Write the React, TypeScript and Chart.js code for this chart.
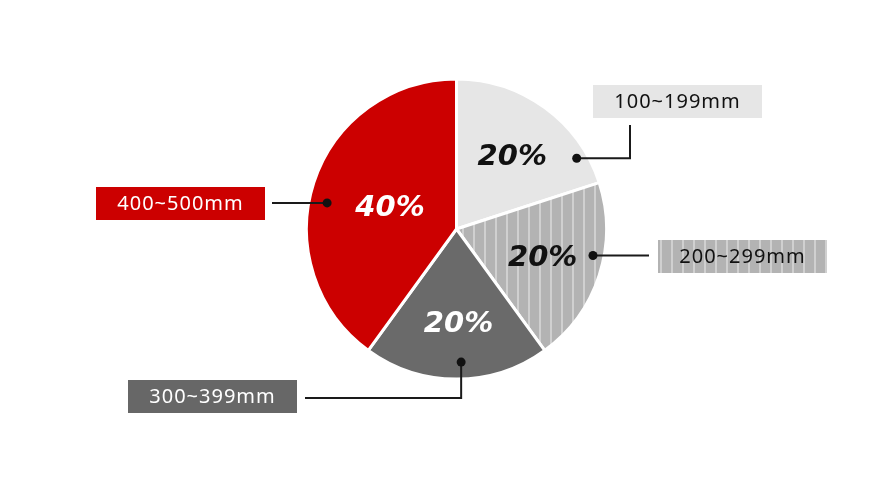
import React, { useEffect, useRef } from 'react';
import { Chart, registerables, Plugin } from 'chart.js';

Chart.register(...registerables);

// data
const categories = ['100~199mm', '200~299mm', '300~399mm', '400~500mm'];
const shares = [20, 20, 20, 40];

// styling per slice
const sliceColors = ['#e6e6e6', 'stripe', '#6a6a6a', '#cc0000'];
const boxColors = ['#e6e6e6', 'stripe', '#676767', '#cc0000'];
const valueTextColors = ['#111111', '#111111', '#ffffff', '#ffffff'];
const boxTextColors = ['#111111', '#111111', '#ffffff', '#ffffff'];
const valueRadius = [0.61, 0.59, 0.62, 0.48];

// callout layout, offsets in px relative to pie center at R=150
const callouts = [
  { dotAngle: 59.5, dotR: 0.93, path: [[173.5, null], [173.5, -104]], box: [136.5, -144] },
  { dotAngle: 101, dotR: 0.927, path: [[192.5, null]], box: [201.5, 11] },
  { dotAngle: 178, dotR: 0.888, path: [[null, 169], [-151.5, 169]], box: [-328.5, 151] },
  { dotAngle: 281.4, dotR: 0.88, path: [[-184.5, null]], box: [-360.5, -42] },
];
const BOX_W = 169;
const BOX_H = 33;

function makeStripe(ctx: CanvasRenderingContext2D): CanvasPattern | string {
  const c = document.createElement('canvas');
  c.width = 11;
  c.height = 4;
  const p = c.getContext('2d');
  if (!p) return '#b5b5b5';
  p.fillStyle = '#b3b3b3';
  p.fillRect(0, 0, 11, 4);
  p.fillStyle = '#d0d0d0';
  p.fillRect(0, 0, 2, 4);
  return ctx.createPattern(c, 'repeat') || '#b5b5b5';
}

const calloutPlugin: Plugin<'pie'> = {
  id: 'callouts',
  afterDatasetsDraw(chart) {
    const ctx = chart.ctx;
    const meta = chart.getDatasetMeta(0);
    const total = shares.reduce((a, b) => a + b, 0);
    const stripe = makeStripe(ctx);
    meta.data.forEach((el: any, i: number) => {
      const { x: cx, y: cy, startAngle, endAngle, outerRadius } = el.getProps(
        ['x', 'y', 'startAngle', 'endAngle', 'outerRadius'],
        true
      );
      const R = outerRadius;
      const s = R / 150;
      const co = callouts[i];

      // percentage label
      const mid = (startAngle + endAngle) / 2;
      const lx = cx + Math.cos(mid) * R * valueRadius[i];
      const ly = cy + Math.sin(mid) * R * valueRadius[i];
      ctx.save();
      ctx.font = 'oblique bold 29px "DejaVu Sans", sans-serif';
      ctx.fillStyle = valueTextColors[i];
      ctx.textAlign = 'center';
      ctx.textBaseline = 'middle';
      ctx.fillText(Math.round((shares[i] / total) * 100) + '%', lx + 2, ly + 2);
      ctx.restore();

      // dot + leader line
      const a = (co.dotAngle * Math.PI) / 180 - Math.PI / 2;
      const dx = cx + Math.cos(a) * R * co.dotR;
      const dy = cy + Math.sin(a) * R * co.dotR;
      ctx.save();
      ctx.strokeStyle = '#1a1a1a';
      ctx.lineWidth = 2;
      ctx.beginPath();
      ctx.moveTo(dx, dy);
      let px = dx;
      let py = dy;
      co.path.forEach(([ox, oy]) => {
        px = ox === null ? px : cx + ox * s;
        py = oy === null ? py : cy + oy * s;
        ctx.lineTo(px, py);
      });
      ctx.stroke();
      ctx.fillStyle = '#111';
      ctx.beginPath();
      ctx.arc(dx, dy, 4.5, 0, Math.PI * 2);
      ctx.fill();

      // label box
      const bx = cx + co.box[0] * s;
      const by = cy + co.box[1] * s;
      ctx.fillStyle = boxColors[i] === 'stripe' ? stripe : boxColors[i];
      ctx.fillRect(bx, by, BOX_W, BOX_H);
      ctx.font = '20px "Noto Sans", Lato, sans-serif';
      (ctx as any).letterSpacing = '1px';
      ctx.fillStyle = boxTextColors[i];
      ctx.textAlign = 'center';
      ctx.textBaseline = 'middle';
      ctx.fillText(categories[i], bx + BOX_W / 2, by + BOX_H / 2 + 1);
      ctx.restore();
    });
  },
};

const App: React.FC = () => {
  const canvasRef = useRef<HTMLCanvasElement>(null);
  const chartInstance = useRef<Chart<'pie'> | null>(null);

  useEffect(() => {
    document.body.style.margin = '0';
    if (!canvasRef.current) return;
    if (chartInstance.current) chartInstance.current.destroy();
    const ctx = canvasRef.current.getContext('2d')!;
    const stripe = makeStripe(ctx);

    chartInstance.current = new Chart(canvasRef.current, {
      type: 'pie',
      data: {
        labels: categories,
        datasets: [
          {
            data: shares,
            backgroundColor: sliceColors.map((c) => (c === 'stripe' ? stripe : c)) as any,
            borderColor: '#ffffff',
            borderWidth: 3,
          },
        ],
      },
      options: {
        responsive: true,
        maintainAspectRatio: false,
        animation: false,
        layout: { padding: { top: 77.5, bottom: 119.5, left: 200, right: 167 } },
        plugins: {
          legend: { display: false },
          tooltip: { enabled: false },
        },
      },
      plugins: [calloutPlugin],
    });

    return () => {
      if (chartInstance.current) {
        chartInstance.current.destroy();
        chartInstance.current = null;
      }
    };
  }, []);

  return (
    <div style={{ position: 'relative', width: 880, height: 500, background: '#ffffff' }}>
      <canvas ref={canvasRef} />
    </div>
  );
};

export default App;
